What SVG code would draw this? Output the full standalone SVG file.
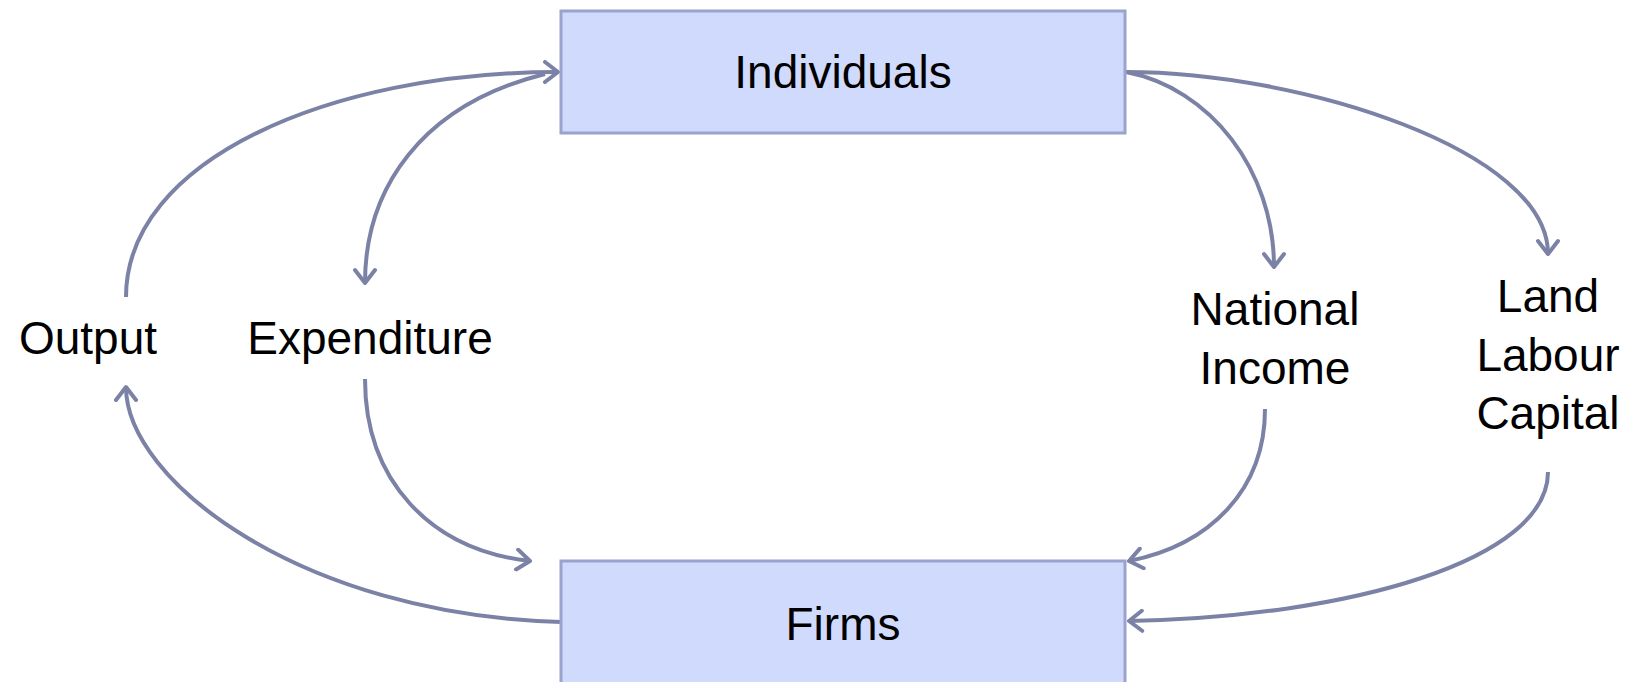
<svg xmlns="http://www.w3.org/2000/svg" width="1628" height="682" viewBox="0 0 1628 682">
<defs>
<style>
.box{fill:#D0DAFC;stroke:#9AA2CE;stroke-width:3}
.lbl{font-family:"Liberation Sans",Arial,sans-serif;font-size:46px;fill:#000;text-anchor:middle}
.con{fill:none;stroke:#7B82A6;stroke-width:4}
</style>
<marker id="arr" viewBox="-16 -12 20 24" markerWidth="20" markerHeight="24" refX="0" refY="0" orient="auto" markerUnits="userSpaceOnUse">
<path d="M-13,-10 L0,0 L-13,10" fill="none" stroke="#7B82A6" stroke-width="4" stroke-linecap="round" stroke-linejoin="round"/>
</marker>
</defs>
<rect width="1628" height="682" fill="#fff"/>
<g id="connectors">
<path class="con" d="M126,297 C126,160 330,72 558,72" marker-end="url(#arr)"/>
<path class="con" d="M545,74 C420,105 365,190 365,283" marker-end="url(#arr)"/>
<path class="con" d="M1126,72 C1210,88 1274,170 1274,267" marker-end="url(#arr)"/>
<path class="con" d="M1126,72 C1300,72 1548,150 1548,254" marker-end="url(#arr)"/>
<path class="con" d="M561,622 C300,615 126,480 126,387" marker-end="url(#arr)"/>
<path class="con" d="M365,379 C365,480 430,550 530,561" marker-end="url(#arr)"/>
<path class="con" d="M1265,409 C1265,490 1210,545 1129,561" marker-end="url(#arr)"/>
<path class="con" d="M1548,472 C1548,560 1350,617 1129,621" marker-end="url(#arr)"/>
</g>
<g id="individuals">
<rect class="box" x="561" y="11" width="564" height="122"/>
<text class="lbl" x="843" y="88">Individuals</text>
</g>
<g id="firms">
<rect class="box" x="561" y="561" width="564" height="130"/>
<text class="lbl" x="843" y="640">Firms</text>
</g>
<g id="output">
<text class="lbl" x="88" y="354">Output</text>
</g>
<g id="expenditure">
<text class="lbl" x="370" y="354">Expenditure</text>
</g>
<g id="national-income">
<text class="lbl" x="1275" y="325">National</text>
<text class="lbl" x="1275" y="384">Income</text>
</g>
<g id="factors">
<text class="lbl" x="1548" y="312">Land</text>
<text class="lbl" x="1548" y="371">Labour</text>
<text class="lbl" x="1548" y="429">Capital</text>
</g>
</svg>
